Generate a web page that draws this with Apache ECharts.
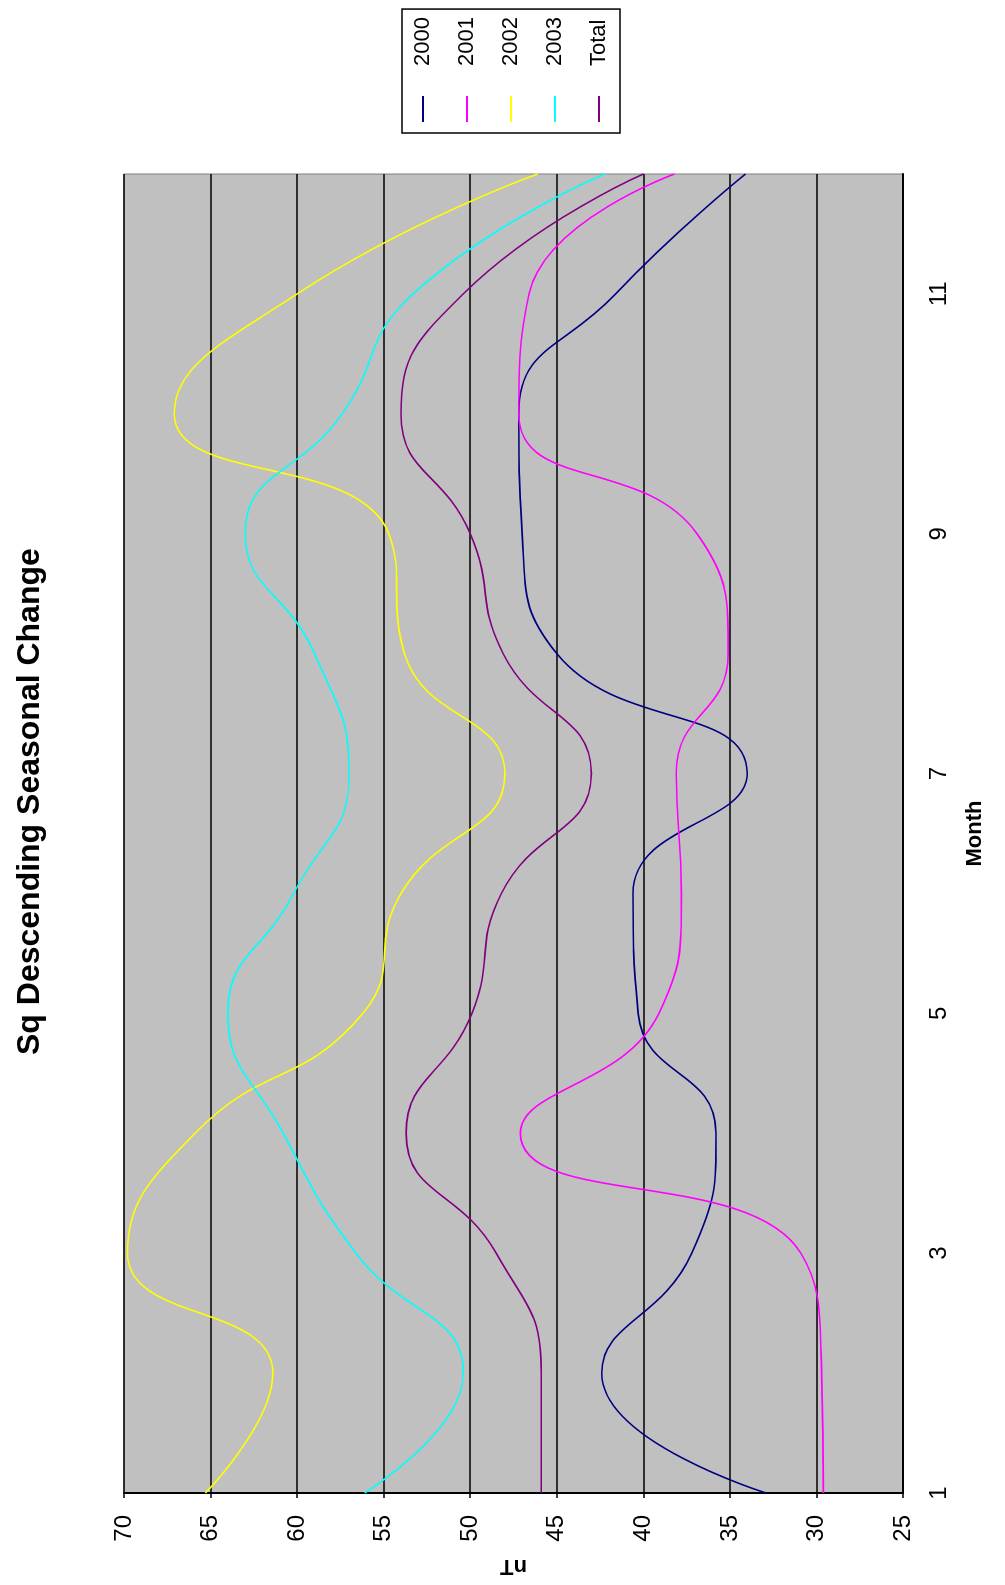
<!DOCTYPE html>
<html><head><meta charset="utf-8">
<script src="https://cdn.jsdelivr.net/npm/echarts@6/dist/echarts.min.js"></script>
<style>
html,body{margin:0;padding:0;width:1005px;height:1585px;overflow:hidden;background:#fff}
#wrap{position:absolute;left:0;top:0;width:1585px;height:1005px;transform-origin:0 0;transform:translateY(1585px) rotate(-90deg);}
#chart{width:1585px;height:1005px;background:#fff}
</style></head><body><div id="wrap"><div id="chart"></div></div>
<script>
const months = ['1','2','3','4','5','6','7','8','9','10','11','12'];
const s2000  = [32.9, 42.4, 37.2, 35.8, 40.3, 40.6, 34.0, 45.0, 47.0, 47.2, 41.6, 34.1];
const s2001  = [29.6, 29.7, 30.9, 47.1, 39.1, 37.8, 38.1, 35.1, 36.9, 47.2, 46.6, 38.2];
const s2002  = [65.3, 61.4, 69.8, 65.9, 56.2, 54.0, 48.0, 53.8, 54.7, 67.1, 60.0, 46.1];
const s2003  = [56.1, 50.4, 56.6, 60.8, 64.0, 60.2, 57.0, 59.0, 63.0, 57.4, 53.3, 42.2];
const sTotal = [45.9, 45.9, 48.5, 53.7, 49.9, 48.2, 43.0, 48.1, 50.0, 54.0, 50.4, 40.0];
const seriesNames = ['2000','2001','2002','2003','Total'];
const seriesColors = ['#000080','#FF00FF','#FFFF00','#00FFFF','#800080'];
const seriesData = [s2000, s2001, s2002, s2003, sTotal];

const FONT = '"Liberation Sans", Arial, sans-serif';
const chart = echarts.init(document.getElementById('chart'), null, {width:1585, height:1005, renderer:'canvas'});
chart.setOption({
  backgroundColor:'#ffffff',
  animation:false,
  textStyle:{fontFamily:FONT},
  title:{
    text:'Sq Descending Seasonal Change',
    left:525, top:9,
    textStyle:{fontFamily:FONT, fontSize:32, fontWeight:'bold', color:'#000'}
  },
  legend:{
    orient:'vertical',
    left:1452, top:402,
    padding:[10,8,10,11],
    backgroundColor:'#ffffff',
    borderColor:'#000',
    borderWidth:1.5,
    borderRadius:0,
    icon:'rect',
    itemWidth:26, itemHeight:2,
    itemGap:22,
    textStyle:{fontFamily:FONT, fontSize:22, color:'#000', padding:[0,0,0,25], lineHeight:22},
    data:seriesNames
  },
  grid:{
    left:91, right:174, top:124, bottom:102,
    show:true, backgroundColor:'#C0C0C0', borderColor:'#808080', borderWidth:1
  },
  xAxis:{
    type:'category',
    data:months,
    boundaryGap:false,
    name:'Month',
    nameLocation:'middle',
    nameGap:61,
    nameTextStyle:{fontFamily:FONT, fontSize:22, fontWeight:'bold', color:'#000'},
    axisLine:{show:true, lineStyle:{color:'#000', width:2}},
    axisTick:{show:false},
    axisLabel:{interval:1, margin:24, fontFamily:FONT, fontSize:24, color:'#000'},
    splitLine:{show:false}
  },
  yAxis:{
    type:'value',
    min:25, max:70, interval:5,
    name:'nT',
    nameLocation:'middle',
    nameGap:62,
    nameRotate:90,
    nameTextStyle:{fontFamily:FONT, fontSize:22, fontWeight:'bold', color:'#000'},
    axisLine:{show:true, lineStyle:{color:'#000', width:2}},
    axisTick:{show:true, inside:false, length:5, lineStyle:{color:'#000', width:1.5}},
    axisLabel:{margin:22, fontFamily:FONT, fontSize:24, color:'#000'},
    splitLine:{show:true, lineStyle:{color:'#000', width:1.5}}
  },
  series: seriesNames.map((n,i)=>({
    name:n,
    type:'line',
    data:seriesData[i],
    smooth:0.5,
    symbol:'none',
    showSymbol:false,
    lineStyle:{color:seriesColors[i], width:1.6},
    itemStyle:{color:seriesColors[i]}
  }))
});
</script></body></html>
